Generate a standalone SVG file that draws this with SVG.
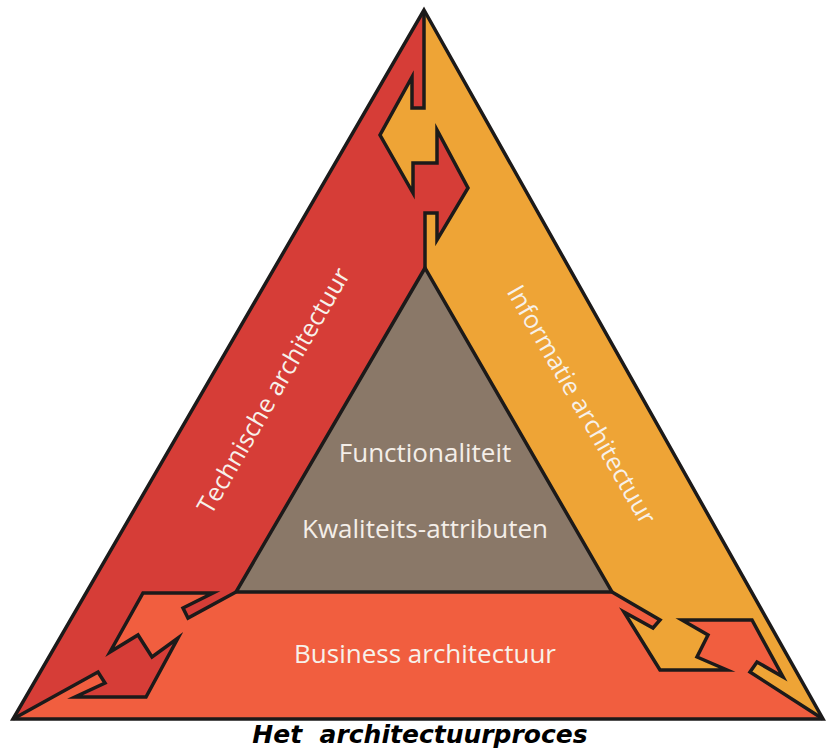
<svg xmlns="http://www.w3.org/2000/svg" width="827" height="752" viewBox="0 0 827 752">
  <style>
    .edge { fill: none; stroke: #1c1a1a; stroke-width: 3.5; stroke-linejoin: miter; stroke-miterlimit: 10; }
    .band-label { font-family: "Open Sans", "Liberation Sans", sans-serif; font-size: 25px; fill: #f7f1ea; text-anchor: middle; }
    .core-label { font-family: "Open Sans", "Liberation Sans", sans-serif; font-size: 26px; fill: #f4eee8; text-anchor: middle; }
    .title { font-family: "DejaVu Sans", "Liberation Sans", sans-serif; font-size: 25px; font-weight: bold; font-style: italic; fill: #000; text-anchor: middle; white-space: pre; }
  </style>

  <rect width="827" height="752" fill="#ffffff"/>

  <!-- Informatie architectuur band (right side, drawn as the full triangle base) -->
  <g id="informatie">
    <path d="M424,10 L823,719 L13,719 Z" fill="#eea436"/>
    <text class="band-label" transform="translate(574,409) rotate(60)">Informatie architectuur</text>
  </g>

  <!-- Technische architectuur band (left side) -->
  <g id="technische">
    <path d="M424,10 L424,108 L412,108 L412,77 L380,135 L413,193 L413,163 L437,163 L437,130 L468,188 L437,240 L437,213 L425,213 L425,268
             L236,592 L188,618 L183,608 L213,593 L143,593 L110,652 L138,635 L152,657 L178,638 L146,697 L75,697 L105,683 L98,672 L13,719 Z"
          fill="#d63d37"/>
    <text class="band-label" transform="translate(281,395) rotate(-60)">Technische architectuur</text>
  </g>

  <!-- Business architectuur band (bottom) -->
  <g id="business">
    <path d="M13,719 L98,672 L105,683 L75,697 L146,697 L178,638 L152,657 L138,635 L110,652 L143,593 L213,593 L183,608 L188,618 L236,592
             L612,592 L660,620 L653,628 L624,612 L660,670 L727,670 L697,657 L708,635 L682,620 L752,620 L783,677 L757,662 L750,672 L823,719 Z"
          fill="#f15e3f"/>
    <text class="band-label" x="425" y="663" style="font-size:26px">Business architectuur</text>
  </g>

  <!-- Core: functionality and quality attributes -->
  <g id="kern">
    <path d="M425,268 L236,592 L612,592 Z" fill="#8a7868"/>
    <text class="core-label" x="425" y="462">Functionaliteit</text>
    <text class="core-label" x="425" y="538">Kwaliteits-attributen</text>
  </g>

  <!-- Interlocking arrow borders and outlines -->
  <g id="connectors">
    <path class="edge" d="M424,10 L424,108 L412,108 L412,77 L380,135 L413,193 L413,163 L437,163 L437,130 L468,188 L437,240 L437,213 L425,213 L425,268"/>
    <path class="edge" d="M236,592 L188,618 L183,608 L213,593 L143,593 L110,652 L138,635 L152,657 L178,638 L146,697 L75,697 L105,683 L98,672 L13,719"/>
    <path class="edge" d="M612,592 L660,620 L653,628 L624,612 L660,670 L727,670 L697,657 L708,635 L682,620 L752,620 L783,677 L757,662 L750,672 L823,719"/>
    <path class="edge" d="M425,268 L236,592 L612,592 Z"/>
    <path class="edge" d="M424,10 L823,719 L13,719 Z" stroke-width="4"/>
  </g>

  <text id="titel" class="title" x="420" y="743">Het  architectuurproces</text>
</svg>
